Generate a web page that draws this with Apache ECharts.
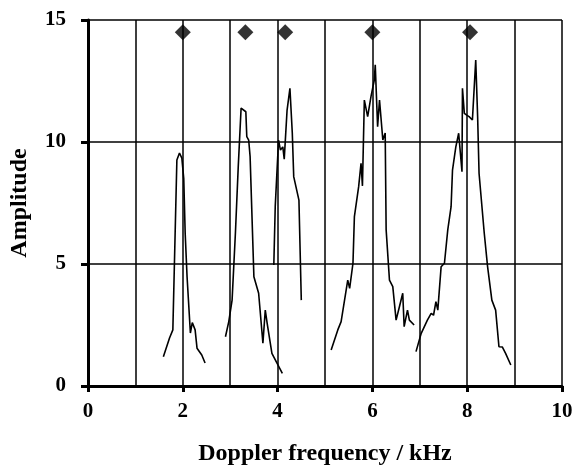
<!DOCTYPE html>
<html>
<head>
<meta charset="utf-8">
<script src="https://cdn.jsdelivr.net/npm/echarts@6/dist/echarts.min.js"></script>
<style>html,body{margin:0;padding:0;background:#fff}#c{width:575px;height:466px}</style>
</head>
<body>
<div id="c"></div>
<script>
const xTicks = [0, 2, 4, 6, 8, 10];
const yTicks = [0, 5, 10, 15];

const peak1X = [1.59, 1.72, 1.79, 1.875, 1.93, 1.98, 2.02, 2.05, 2.09, 2.16, 2.20, 2.23, 2.26, 2.30, 2.40, 2.47];
const peak1Y = [1.2, 1.97, 2.3, 9.26, 9.55, 9.34, 8.5, 6.27, 4.48, 2.17, 2.6, 2.57, 2.3, 1.55, 1.27, 0.94];

const peak2X = [2.90, 2.97, 3.04, 3.11, 3.17, 3.23, 3.33, 3.35, 3.39, 3.42, 3.50, 3.60, 3.69, 3.74, 3.78, 3.88, 4.10];
const peak2Y = [2.02, 2.64, 3.52, 6.27, 9.0, 11.39, 11.24, 10.22, 10.08, 9.4, 4.48, 3.8, 1.75, 3.11, 2.57, 1.34, 0.52];

const peak3X = [3.92, 3.95, 4.02, 4.06, 4.11, 4.14, 4.20, 4.26, 4.31, 4.34, 4.45, 4.50];
const peak3Y = [4.96, 7.35, 10.08, 9.67, 9.8, 9.3, 11.31, 12.2, 10.37, 8.58, 7.62, 3.52];

const peak4X = [5.13, 5.27, 5.34, 5.48, 5.52, 5.59, 5.62, 5.71, 5.76, 5.79, 5.83, 5.90, 5.97, 6.04, 6.06, 6.11, 6.15, 6.22, 6.27, 6.29, 6.36, 6.43, 6.50, 6.57, 6.64, 6.67, 6.74, 6.78, 6.88];
const peak4Y = [1.48, 2.3, 2.64, 4.34, 4.0, 5.03, 6.94, 8.17, 9.13, 8.2, 11.72, 11.04, 11.86, 12.54, 13.16, 10.63, 11.72, 10.08, 10.37, 6.4, 4.34, 4.07, 2.7, 3.25, 3.8, 2.43, 3.11, 2.7, 2.5];

const peak5X = [6.92, 7.03, 7.16, 7.24, 7.29, 7.34, 7.38, 7.45, 7.52, 7.59, 7.66, 7.69, 7.76, 7.82, 7.89, 7.90, 7.94, 7.99, 8.04, 8.11, 8.18, 8.22, 8.25, 8.36, 8.43, 8.52, 8.60, 8.67, 8.74, 8.81, 8.92];
const peak5Y = [1.41, 2.16, 2.7, 2.98, 2.9, 3.46, 3.11, 4.89, 5.03, 6.4, 7.35, 8.85, 9.8, 10.36, 8.78, 12.2, 11.17, 11.1, 11.04, 10.9, 13.36, 11.04, 8.72, 6.26, 4.89, 3.52, 3.11, 1.61, 1.6, 1.34, 0.86];

const markerX = [2.0, 3.32, 4.16, 6.0, 8.06];
const markerY = [14.5, 14.5, 14.5, 14.5, 14.5];

function pairs(xs, ys) { return xs.map((x, i) => [x, ys[i]]); }

const font = '"Liberation Serif", "DejaVu Serif", serif';
const chart = echarts.init(document.getElementById('c'));
const lineStyle = { color: '#000', width: 1.6 };
const peaks = [[peak1X, peak1Y], [peak2X, peak2Y], [peak3X, peak3Y], [peak4X, peak4Y], [peak5X, peak5Y]];

chart.setOption({
  animation: false,
  backgroundColor: '#fff',
  grid: { left: 88, right: 13, top: 20, bottom: 80, containLabel: false, outerBoundsMode: 'none' },
  xAxis: {
    type: 'value', min: xTicks[0], max: xTicks[xTicks.length - 1], interval: 2,
    name: 'Doppler frequency / kHz', nameLocation: 'middle', nameGap: 56,
    nameTextStyle: { fontFamily: font, fontWeight: 'bold', fontSize: 24, color: '#000' },
    axisLine: { lineStyle: { color: '#000', width: 3 } },
    axisTick: { show: true, inside: false, length: 6, lineStyle: { color: '#000', width: 3 } },
    axisLabel: { fontFamily: font, fontWeight: 'bold', fontSize: 21, color: '#000', margin: 15 },
    splitLine: { show: true, lineStyle: { color: '#000', width: 1.5 } },
    minorTick: { show: false, splitNumber: 2 },
    minorSplitLine: { show: true, lineStyle: { color: '#000', width: 1.5 } }
  },
  yAxis: {
    type: 'value', min: yTicks[0], max: yTicks[yTicks.length - 1], interval: 5,
    name: 'Amplitude', nameLocation: 'middle', nameGap: 56,
    nameTextStyle: { fontFamily: font, fontWeight: 'bold', fontSize: 24, color: '#000' },
    axisLine: { show: true, lineStyle: { color: '#000', width: 3 } },
    axisTick: { show: true, length: 7, lineStyle: { color: '#000', width: 3 } },
    axisLabel: { fontFamily: font, fontWeight: 'bold', fontSize: 21, color: '#000', margin: 22 },
    splitLine: { show: true, lineStyle: { color: '#000', width: 1.5 } }
  },
  series: peaks.map(p => ({
    type: 'line', data: pairs(p[0], p[1]), showSymbol: false, symbol: 'none',
    lineStyle: lineStyle, silent: true
  })).concat([{
    type: 'scatter', data: pairs(markerX, markerY), symbol: 'diamond', symbolSize: 16,
    itemStyle: { color: '#000' }, silent: true
  }])
});
</script>
</body>
</html>
